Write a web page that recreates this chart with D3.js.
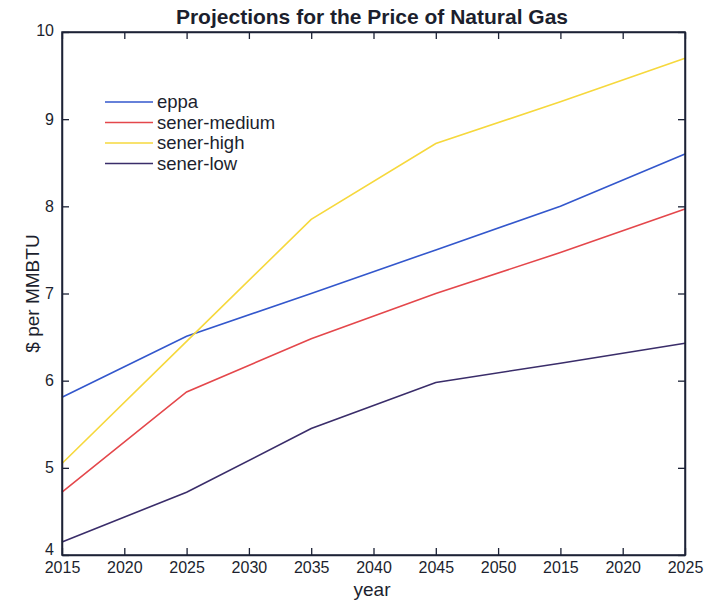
<!DOCTYPE html>
<html><head><meta charset="utf-8">
<script src="https://cdn.jsdelivr.net/npm/d3@7"></script>
<style>body{margin:0;background:#fff}svg{display:block}text{font-family:"Liberation Sans",Arial,sans-serif;fill:#1c1f2e}</style>
</head><body><svg id="c" width="704" height="603"></svg>
<script>
const years = [2015, 2025, 2035, 2045, 2055, 2065];
const tickValues = [2015,2020,2025,2030,2035,2040,2045,2050,2055,2060,2065];
const tickLabels = ["2015","2020","2025","2030","2035","2040","2045","2050","2015","2020","2025"];
const yTicks = [4,5,6,7,8,9,10];
const seriesNames = ["eppa","sener-medium","sener-high","sener-low"];
const seriesColors = ["#3357cc","#e4474b","#f6d83c","#3a2d6a"];
const eppa = [5.81, 6.51, 7.0, 7.5, 8.0, 8.6];
const senerMedium = [4.72, 5.87, 6.48, 7.0, 7.47, 7.97];
const senerHigh = [5.05, 6.45, 7.85, 8.72, 9.2, 9.7];
const senerLow = [4.15, 4.72, 5.45, 5.98, 6.2, 6.43];
const seriesValues = [eppa, senerMedium, senerHigh, senerLow];

const svg = d3.select("#c");
const L=62, R=685, T=32, B=555;
const x = d3.scaleLinear().domain([2015,2065]).range([L,R]);
const y = d3.scaleLinear().domain([4,10]).range([B,T]);
const axisColor = "#1c2236";

const line = d3.line().x((d,i)=>x(years[i])).y(d=>y(d));
seriesValues.forEach((vals,i)=>{
  svg.append("path").datum(vals).attr("d",line).attr("fill","none")
    .attr("stroke",seriesColors[i]).attr("stroke-width",1.6);
});

svg.append("rect").attr("x",L).attr("y",T).attr("width",R-L).attr("height",B-T)
  .attr("fill","none").attr("stroke",axisColor).attr("stroke-width",1.5);

const fmtX = (d,i)=>tickLabels[i];
const xb = svg.append("g").attr("transform",`translate(0,${B})`)
  .call(d3.axisBottom(x).tickValues(tickValues).tickFormat(fmtX).tickSizeInner(-7).tickSizeOuter(0).tickPadding(8));
const xt = svg.append("g").attr("transform",`translate(0,${T})`)
  .call(d3.axisTop(x).tickValues(tickValues).tickFormat("").tickSizeInner(-7).tickSizeOuter(0));
const yl = svg.append("g").attr("transform",`translate(${L},0)`)
  .call(d3.axisLeft(y).tickValues(yTicks).tickFormat(d3.format("d")).tickSizeInner(-7).tickSizeOuter(0).tickPadding(8));
const yr = svg.append("g").attr("transform",`translate(${R},0)`)
  .call(d3.axisRight(y).tickValues(yTicks).tickFormat("").tickSizeInner(-7).tickSizeOuter(0));
[xb,xt,yl,yr].forEach(g=>{
  g.select(".domain").attr("stroke",axisColor).attr("stroke-width",1.5);
  g.selectAll(".tick line").attr("stroke",axisColor).attr("stroke-width",1.3);
  g.selectAll("text").style("font-size","16px").attr("fill","#1c1f2e");
});
xb.selectAll("text").attr("dy","0.6em");
yl.selectAll(".tick text").filter(d=>d===4).attr("dy","-0.05em");
yl.selectAll(".tick text").filter(d=>d===10).attr("dy","0.2em");

svg.append("text").attr("x",372).attr("y",24).attr("text-anchor","middle")
  .style("font-size","21px").style("font-weight","bold").text("Projections for the Price of Natural Gas");
svg.append("text").attr("x",372).attr("y",596).attr("text-anchor","middle")
  .style("font-size","19px").text("year");
svg.append("text").attr("transform",`translate(39,${(T+B)/2}) rotate(-90)`).attr("text-anchor","middle")
  .style("font-size","19px").text("$ per MMBTU");

const lg = svg.append("g");
seriesNames.forEach((n,i)=>{
  const yy = 102 + i*20.5;
  lg.append("line").attr("x1",105).attr("x2",153).attr("y1",yy).attr("y2",yy)
    .attr("stroke",seriesColors[i]).attr("stroke-width",1.6);
  lg.append("text").attr("x",157).attr("y",yy).attr("dy","0.35em")
    .style("font-size","18.5px").text(n);
});
</script></body></html>
